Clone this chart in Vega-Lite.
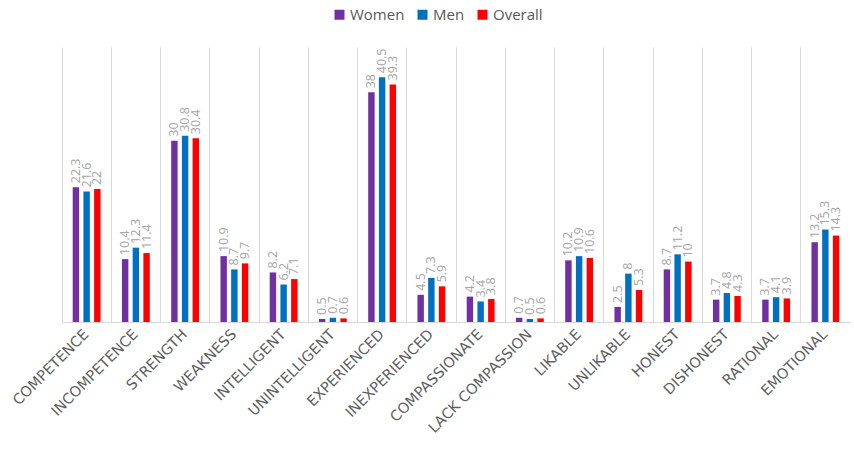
{
  "$schema": "https://vega.github.io/schema/vega-lite/v6.json",
  "width": 788,
  "height": 275,
  "autosize": {"type": "none"},
  "padding": {"left": 62, "top": 47, "right": 4, "bottom": 130},
  "config": {"view": {"stroke": null}, "font": "Open Sans"},
  "data": {"values": [
    {"trait": "COMPETENCE", "group": "Women", "value": 22.3},
    {"trait": "COMPETENCE", "group": "Men", "value": 21.6},
    {"trait": "COMPETENCE", "group": "Overall", "value": 22},
    {"trait": "INCOMPETENCE", "group": "Women", "value": 10.4},
    {"trait": "INCOMPETENCE", "group": "Men", "value": 12.3},
    {"trait": "INCOMPETENCE", "group": "Overall", "value": 11.4},
    {"trait": "STRENGTH", "group": "Women", "value": 30},
    {"trait": "STRENGTH", "group": "Men", "value": 30.8},
    {"trait": "STRENGTH", "group": "Overall", "value": 30.4},
    {"trait": "WEAKNESS", "group": "Women", "value": 10.9},
    {"trait": "WEAKNESS", "group": "Men", "value": 8.7},
    {"trait": "WEAKNESS", "group": "Overall", "value": 9.7},
    {"trait": "INTELLIGENT", "group": "Women", "value": 8.2},
    {"trait": "INTELLIGENT", "group": "Men", "value": 6.2},
    {"trait": "INTELLIGENT", "group": "Overall", "value": 7.1},
    {"trait": "UNINTELLIGENT", "group": "Women", "value": 0.5},
    {"trait": "UNINTELLIGENT", "group": "Men", "value": 0.7},
    {"trait": "UNINTELLIGENT", "group": "Overall", "value": 0.6},
    {"trait": "EXPERIENCED", "group": "Women", "value": 38},
    {"trait": "EXPERIENCED", "group": "Men", "value": 40.5},
    {"trait": "EXPERIENCED", "group": "Overall", "value": 39.3},
    {"trait": "INEXPERIENCED", "group": "Women", "value": 4.5},
    {"trait": "INEXPERIENCED", "group": "Men", "value": 7.3},
    {"trait": "INEXPERIENCED", "group": "Overall", "value": 5.9},
    {"trait": "COMPASSIONATE", "group": "Women", "value": 4.2},
    {"trait": "COMPASSIONATE", "group": "Men", "value": 3.4},
    {"trait": "COMPASSIONATE", "group": "Overall", "value": 3.8},
    {"trait": "LACK COMPASSION", "group": "Women", "value": 0.7},
    {"trait": "LACK COMPASSION", "group": "Men", "value": 0.5},
    {"trait": "LACK COMPASSION", "group": "Overall", "value": 0.6},
    {"trait": "LIKABLE", "group": "Women", "value": 10.2},
    {"trait": "LIKABLE", "group": "Men", "value": 10.9},
    {"trait": "LIKABLE", "group": "Overall", "value": 10.6},
    {"trait": "UNLIKABLE", "group": "Women", "value": 2.5},
    {"trait": "UNLIKABLE", "group": "Men", "value": 8},
    {"trait": "UNLIKABLE", "group": "Overall", "value": 5.3},
    {"trait": "HONEST", "group": "Women", "value": 8.7},
    {"trait": "HONEST", "group": "Men", "value": 11.2},
    {"trait": "HONEST", "group": "Overall", "value": 10},
    {"trait": "DISHONEST", "group": "Women", "value": 3.7},
    {"trait": "DISHONEST", "group": "Men", "value": 4.8},
    {"trait": "DISHONEST", "group": "Overall", "value": 4.3},
    {"trait": "RATIONAL", "group": "Women", "value": 3.7},
    {"trait": "RATIONAL", "group": "Men", "value": 4.1},
    {"trait": "RATIONAL", "group": "Overall", "value": 3.9},
    {"trait": "EMOTIONAL", "group": "Women", "value": 13.2},
    {"trait": "EMOTIONAL", "group": "Men", "value": 15.3},
    {"trait": "EMOTIONAL", "group": "Overall", "value": 14.3}
  ]},
  "encoding": {
    "x": {
      "field": "trait", "type": "nominal", "sort": null,
      "scale": {"paddingInner": 0, "paddingOuter": 0},
      "axis": {
        "title": null, "labelAngle": -45, "labelAlign": "right", "labelBaseline": "middle",
        "labelFont": "DejaVu Sans", "labelFontSize": 14.5, "labelFontWeight": "normal", "labelColor": "#5f5f5f",
        "labelPadding": 10, "ticks": false, "grid": true, "gridColor": "#d9d9d9",
        "bandPosition": 0, "domainColor": "#d9d9d9", "labelBound": false, "labelOverlap": false
      }
    },
    "xOffset": {"field": "group", "type": "nominal", "sort": ["Women", "Men", "Overall"],
      "scale": {"paddingInner": 0.4, "paddingOuter": 1.2}},
    "y": {"field": "value", "type": "quantitative", "scale": {"domain": [0, 45.5]}, "axis": null}
  },
  "layer": [
    {
      "mark": {"type": "bar"},
      "encoding": {
        "color": {
          "field": "group", "type": "nominal",
          "scale": {"domain": ["Women", "Men", "Overall"], "range": ["#7030A0", "#0070C0", "#FF0000"]},
          "legend": {
            "title": null, "orient": "none", "direction": "horizontal",
            "legendX": 270, "legendY": -40, "symbolType": "square", "symbolSize": 100,
            "labelFontSize": 15, "labelColor": "#595959", "columnPadding": 10, "labelOffset": 3
          }
        }
      }
    },
    {
      "mark": {"type": "text", "angle": -90, "align": "left", "baseline": "middle", "dx": 4, "fontSize": 12.5, "color": "#a6a6a6"},
      "encoding": {"text": {"field": "value", "type": "quantitative"}}
    }
  ]
}
